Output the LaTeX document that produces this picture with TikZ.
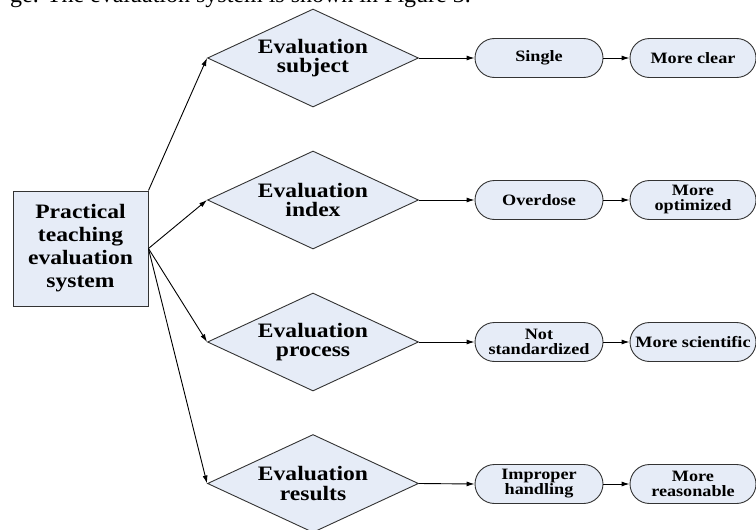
\documentclass[tikz,border=0pt]{standalone}
\usepackage{fontspec}
\setmainfont{Liberation Serif}[FakeStretch=1.15]
\newfontfamily\capfont{Liberation Serif}
\usetikzlibrary{shapes.geometric,arrows.meta}
\definecolor{boxfill}{HTML}{E6ECF7}
\definecolor{boxline}{HTML}{333333}
\begin{document}
\begin{tikzpicture}[x=1pt,y=-1pt,
  base/.style={draw=boxline,fill=boxfill,line width=0.9pt,align=center,inner sep=0pt},
  mainbox/.style={base,rectangle,minimum width=135pt,minimum height=115pt,font=\fontsize{20.5}{23}\bfseries\selectfont},
  decision/.style={base,diamond,aspect=2.15,minimum width=211pt,minimum height=98pt,font=\fontsize{20.5}{19.5}\bfseries\selectfont},
  pill/.style={base,rectangle,rounded corners=19.5pt,minimum width=128pt,minimum height=39pt,font=\fontsize{15.8}{15}\bfseries\selectfont},
  pilltwo/.style={pill,minimum width=126pt},
  link/.style={line width=0.9pt,-{Latex[length=8pt,width=5pt]}}]
\useasboundingbox (0,0) rectangle (756,530);
\clip (0,0) rectangle (756,530);
\node[anchor=base west,font=\capfont\fontsize{24}{28}\selectfont,inner sep=0pt] (cap) at (10,2) {ge. The evaluation system is shown in Figure 3.};
\node[mainbox] (main) at (80.5,248.5) {Practical\\teaching\\evaluation\\system};
\node[decision] (d1) at (313,58) {Evaluation\\subject};
\node[decision] (d2) at (313,200) {Evaluation\\index};
\node[decision] (d3) at (313,342) {Evaluation\\process};
\node[decision] (d4) at (313,483.5) {Evaluation\\results};
\node[pill] (p11) at (539,58) {Single};
\node[pilltwo] (p12) at (693,58) {More clear};
\node[pill] (p21) at (539,200) {Overdose};
\node[pilltwo] (p22) at (693,200) {More\\optimized};
\node[pill] (p31) at (539,342) {Not\\standardized};
\node[pilltwo] (p32) at (693,342) {More scientific};
\node[pill] (p41) at (539,484) {Improper\\handling};
\node[pilltwo] (p42) at (693,484) {More\\reasonable};
\draw[link] (main.north east) -- (d1.west);
\draw[link] (main.east) -- (d2.west);
\draw[link] (main.east) -- (d3.west);
\draw[link] (main.east) -- (d4.west);
\foreach \r in {1,2,3,4}{
  \draw[link] (d\r.east) -- (p\r1.west);
  \draw[link] (p\r1.east) -- (p\r2.west);
}
\end{tikzpicture}
\end{document}
